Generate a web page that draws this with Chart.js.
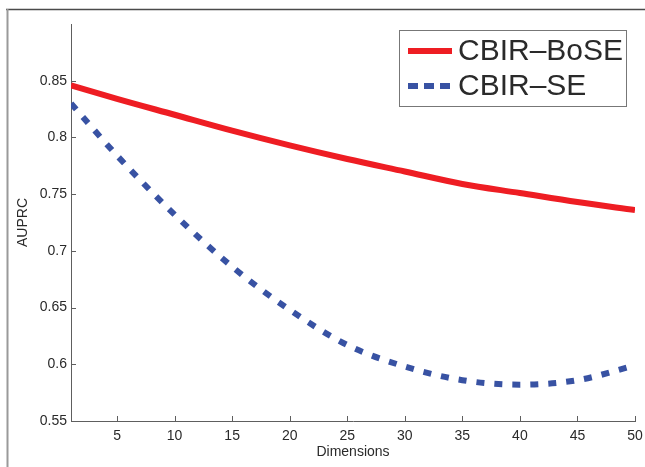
<!DOCTYPE html>
<html>
<head>
<meta charset="utf-8">
<script src="https://cdn.jsdelivr.net/npm/chart.js@4/dist/chart.umd.min.js"></script>
<style>
  html, body { margin: 0; padding: 0; background: #fff; }
  #wrap { width: 645px; height: 467px; position: relative; }
</style>
</head>
<body>
<div id="wrap"><canvas id="auprc"></canvas></div>
<script>
// AUPRC against number of dimensions
const dims = [1, 5, 10, 15, 20, 25, 30, 35, 40, 45, 50];
const boseAuprc = [0.846, 0.834, 0.820, 0.806, 0.793, 0.781, 0.770, 0.759, 0.751, 0.743, 0.736];
const seAuprc = [0.830, 0.784, 0.732, 0.686, 0.648, 0.617, 0.598, 0.586, 0.582, 0.586, 0.599];
const xTicks = [5, 10, 15, 20, 25, 30, 35, 40, 45, 50];
const yTicks = [0.55, 0.6, 0.65, 0.7, 0.75, 0.8, 0.85];
const seriesNames = ['CBIR\u2013BoSE', 'CBIR\u2013SE'];

const RED = '#ee1d23';
const BLUE = '#3852a3';
const INK = '#2a2a2a';
const AXIS = '#5e5e5e';
const FONT = '"Liberation Sans", Arial, Helvetica, sans-serif';

const toPoints = ys => dims.map((d, i) => ({ x: d, y: ys[i] }));

// inward tick marks, outer frame and the boxed legend (matlab look)
const matlabDeco = {
    id: 'matlabDeco',
    beforeDraw(chart) {
        const ctx = chart.ctx;
        ctx.save();
        ctx.fillStyle = '#fff';
        ctx.fillRect(0, 0, chart.width, chart.height);
        ctx.strokeStyle = '#4a4a4a';
        ctx.lineWidth = 1.5;
        ctx.beginPath();
        ctx.moveTo(6, 9.5);
        ctx.lineTo(chart.width, 9.5);
        ctx.stroke();
        ctx.strokeStyle = '#9a9a9a';
        ctx.lineWidth = 2;
        ctx.beginPath();
        ctx.moveTo(7.5, 9);
        ctx.lineTo(7.5, chart.height);
        ctx.stroke();
        ctx.restore();
    },
    afterDraw(chart) {
        const ctx = chart.ctx;
        const area = chart.chartArea;
        const xs = chart.scales.x;
        const ys = chart.scales.y;
        ctx.save();
        ctx.strokeStyle = AXIS;
        ctx.lineWidth = 1;
        ctx.beginPath();
        xTicks.forEach(v => {
            const px = Math.round(xs.getPixelForValue(v)) + 0.5;
            ctx.moveTo(px, area.bottom);
            ctx.lineTo(px, area.bottom - 5);
        });
        yTicks.forEach(v => {
            const py = Math.round(ys.getPixelForValue(v)) + 0.5;
            ctx.moveTo(area.left, py);
            ctx.lineTo(area.left + 5, py);
        });
        ctx.stroke();

        // legend
        const bx = 399.5, by = 30.5, bw = 227, bh = 76;
        ctx.fillStyle = '#fff';
        ctx.fillRect(bx, by, bw, bh);
        ctx.strokeStyle = '#777';
        ctx.strokeRect(bx, by, bw, bh);
        const rows = [51, 86];
        chart.data.datasets.forEach((ds, i) => {
            ctx.strokeStyle = ds.borderColor;
            ctx.lineWidth = 6;
            ctx.lineCap = 'butt';
            ctx.setLineDash(i === 1 ? [10, 6] : []);
            ctx.beginPath();
            ctx.moveTo(408, rows[i]);
            ctx.lineTo(452, rows[i]);
            ctx.stroke();
            ctx.setLineDash([]);
            ctx.fillStyle = INK;
            ctx.font = '30px ' + FONT;
            ctx.textBaseline = 'middle';
            ctx.textAlign = 'left';
            ctx.fillText(ds.label, 458, rows[i] + 1);
        });
        ctx.restore();
    }
};

new Chart(document.getElementById('auprc'), {
    type: 'line',
    data: {
        datasets: [{
            label: seriesNames[0],
            data: toPoints(boseAuprc),
            borderColor: RED,
            borderWidth: 6,
            pointRadius: 0,
            fill: false,
            cubicInterpolationMode: 'monotone',
            borderCapStyle: 'butt'
        }, {
            label: seriesNames[1],
            data: toPoints(seAuprc),
            borderColor: BLUE,
            borderWidth: 6,
            borderDash: [8, 10],
            pointRadius: 0,
            fill: false,
            cubicInterpolationMode: 'monotone',
            borderCapStyle: 'butt'
        }]
    },
    options: {
        responsive: true,
        maintainAspectRatio: false,
        animation: false,
        layout: { padding: { left: 0, top: 24, right: 10, bottom: 0 } },
        plugins: {
            legend: { display: false },
            tooltip: { enabled: false }
        },
        scales: {
            x: {
                type: 'linear',
                min: 1,
                max: 50,
                afterBuildTicks: s => { s.ticks = xTicks.map(v => ({ value: v })); },
                afterFit: s => { s.height = 46; s.paddingRight = 0; s.paddingLeft = 0; },
                grid: { display: false, drawTicks: false },
                border: { display: true, color: AXIS, width: 1 },
                ticks: { color: INK, font: { family: FONT, size: 14 }, padding: 7, maxRotation: 0 },
                title: {
                    display: true,
                    text: 'Dimensions',
                    color: INK,
                    font: { family: FONT, size: 14 },
                    padding: { top: 0, bottom: 6 }
                }
            },
            y: {
                min: 0.55,
                max: 0.9,
                afterBuildTicks: s => { s.ticks = yTicks.map(v => ({ value: v })); },
                afterFit: s => { s.width = 71; },
                grid: { display: false, drawTicks: false },
                border: { display: true, color: AXIS, width: 1 },
                ticks: {
                    color: INK,
                    font: { family: FONT, size: 14 },
                    padding: 4,
                    callback: v => String(Number(v.toFixed(2)))
                },
                title: {
                    display: true,
                    text: 'AUPRC',
                    color: INK,
                    font: { family: FONT, size: 14 },
                    padding: { top: 15, bottom: 0 }
                }
            }
        }
    },
    plugins: [matlabDeco]
});
</script>
</body>
</html>
